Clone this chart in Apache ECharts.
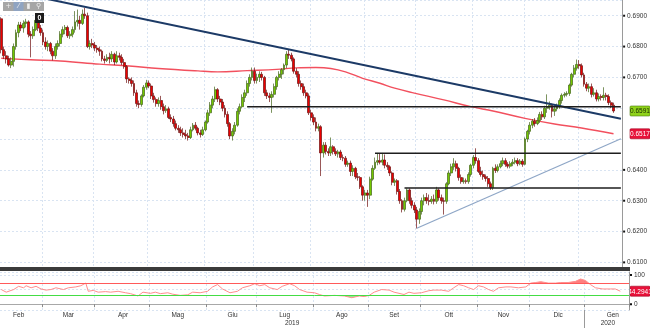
<!DOCTYPE html>
<html>
<head>
<meta charset="utf-8">
<title>NZD/USD giornaliero</title>
<script src="https://cdn.jsdelivr.net/npm/echarts@6.0.0/dist/echarts.min.js"></script>
<style>
  html, body { margin: 0; padding: 0; background: #ffffff; }
  #chart { width: 650px; height: 328px; }
</style>
</head>
<body>
<div id="chart"></div>
<script>
// ---- NZD/USD daily sessions from 6 Feb 2019: [open, close, low, high] ----
const ohlc = [
  // Feb 2019
  [0.6890,0.6790,0.6778,0.6895],[0.6790,0.6770,0.6760,0.6800],[0.6770,0.6760,0.6745,0.6785],
  [0.6760,0.6740,0.6735,0.6770],[0.6740,0.6752,0.6730,0.6765],[0.6752,0.6800,0.6735,0.6810],
  [0.6800,0.6845,0.6790,0.6855],[0.6845,0.6870,0.6830,0.6880],[0.6870,0.6860,0.6850,0.6880],
  [0.6860,0.6875,0.6845,0.6885],[0.6875,0.6880,0.6862,0.6890],[0.6880,0.6840,0.6830,0.6885],
  [0.6840,0.6835,0.6765,0.6850],[0.6835,0.6855,0.6825,0.6865],[0.6855,0.6885,0.6850,0.6890],
  [0.6885,0.6860,0.6850,0.6900],[0.6860,0.6845,0.6835,0.6870],
  // Mar
  [0.6845,0.6815,0.6805,0.6855],[0.6815,0.6800,0.6790,0.6830],[0.6800,0.6810,0.6785,0.6820],
  [0.6810,0.6785,0.6775,0.6815],[0.6785,0.6770,0.6755,0.6795],[0.6770,0.6800,0.6760,0.6810],
  [0.6800,0.6810,0.6790,0.6820],[0.6810,0.6840,0.6800,0.6850],[0.6840,0.6855,0.6830,0.6865],
  [0.6855,0.6862,0.6840,0.6870],[0.6862,0.6835,0.6828,0.6868],[0.6835,0.6840,0.6825,0.6850],
  [0.6840,0.6855,0.6830,0.6865],[0.6855,0.6880,0.6845,0.6915],[0.6880,0.6885,0.6865,0.6920],
  [0.6885,0.6875,0.6855,0.6900],[0.6875,0.6905,0.6870,0.6920],[0.6905,0.6900,0.6890,0.6925],
  [0.6900,0.6800,0.6795,0.6910],[0.6800,0.6810,0.6790,0.6820],[0.6810,0.6805,0.6795,0.6825],
  // Apr
  [0.6805,0.6795,0.6785,0.6815],[0.6795,0.6790,0.6780,0.6805],[0.6790,0.6785,0.6770,0.6800],
  [0.6785,0.6760,0.6752,0.6790],[0.6760,0.6755,0.6745,0.6770],[0.6755,0.6765,0.6750,0.6775],
  [0.6765,0.6760,0.6745,0.6780],[0.6760,0.6775,0.6750,0.6785],[0.6775,0.6750,0.6740,0.6780],
  [0.6750,0.6770,0.6745,0.6785],[0.6770,0.6765,0.6755,0.6780],[0.6765,0.6748,0.6740,0.6775],
  [0.6748,0.6735,0.6728,0.6760],[0.6735,0.6695,0.6682,0.6740],[0.6695,0.6690,0.6680,0.6700],
  [0.6690,0.6680,0.6670,0.6700],[0.6680,0.6650,0.6640,0.6690],[0.6650,0.6615,0.6605,0.6660],
  [0.6615,0.6612,0.6600,0.6625],[0.6612,0.6640,0.6605,0.6645],[0.6640,0.6668,0.6635,0.6675],
  [0.6668,0.6682,0.6660,0.6692],
  // May
  [0.6682,0.6672,0.6665,0.6690],[0.6672,0.6640,0.6630,0.6680],[0.6640,0.6628,0.6618,0.6650],
  [0.6628,0.6615,0.6605,0.6635],[0.6615,0.6625,0.6605,0.6635],[0.6625,0.6605,0.6595,0.6640],
  [0.6605,0.6592,0.6580,0.6615],[0.6592,0.6598,0.6585,0.6610],[0.6598,0.6570,0.6565,0.6605],
  [0.6570,0.6565,0.6555,0.6580],[0.6565,0.6550,0.6540,0.6575],[0.6550,0.6535,0.6528,0.6560],
  [0.6535,0.6530,0.6520,0.6545],[0.6530,0.6520,0.6510,0.6540],[0.6520,0.6515,0.6505,0.6535],
  [0.6515,0.6510,0.6500,0.6530],[0.6510,0.6505,0.6495,0.6520],[0.6505,0.6530,0.6500,0.6540],
  [0.6530,0.6545,0.6525,0.6552],[0.6545,0.6535,0.6528,0.6555],[0.6535,0.6520,0.6512,0.6540],
  [0.6520,0.6515,0.6505,0.6530],[0.6515,0.6530,0.6510,0.6540],
  // Jun
  [0.6530,0.6555,0.6525,0.6560],[0.6555,0.6585,0.6550,0.6595],[0.6585,0.6610,0.6575,0.6620],
  [0.6610,0.6630,0.6600,0.6640],[0.6630,0.6660,0.6620,0.6670],[0.6660,0.6630,0.6620,0.6665],
  [0.6630,0.6620,0.6610,0.6640],[0.6620,0.6600,0.6590,0.6630],[0.6600,0.6580,0.6570,0.6610],
  [0.6580,0.6550,0.6540,0.6590],[0.6550,0.6510,0.6500,0.6555],[0.6510,0.6525,0.6495,0.6535],
  [0.6525,0.6545,0.6515,0.6555],[0.6545,0.6590,0.6540,0.6600],[0.6590,0.6605,0.6580,0.6615],
  [0.6605,0.6635,0.6600,0.6645],[0.6635,0.6650,0.6620,0.6660],[0.6650,0.6680,0.6640,0.6690],
  [0.6680,0.6700,0.6670,0.6710],[0.6700,0.6720,0.6690,0.6732],
  // Jul
  [0.6720,0.6690,0.6680,0.6732],[0.6690,0.6700,0.6680,0.6712],[0.6700,0.6710,0.6685,0.6720],
  [0.6710,0.6700,0.6690,0.6718],[0.6700,0.6650,0.6640,0.6705],[0.6650,0.6640,0.6630,0.6660],
  [0.6640,0.6635,0.6620,0.6650],[0.6635,0.6645,0.6585,0.6655],[0.6645,0.6670,0.6635,0.6680],
  [0.6670,0.6700,0.6660,0.6705],[0.6700,0.6710,0.6690,0.6720],[0.6710,0.6725,0.6695,0.6730],
  [0.6725,0.6740,0.6710,0.6745],[0.6740,0.6775,0.6730,0.6785],[0.6775,0.6772,0.6760,0.6792],
  [0.6772,0.6760,0.6752,0.6780],[0.6760,0.6720,0.6712,0.6765],[0.6720,0.6710,0.6700,0.6730],
  [0.6710,0.6680,0.6670,0.6720],[0.6680,0.6670,0.6660,0.6690],[0.6670,0.6650,0.6640,0.6680],
  [0.6650,0.6640,0.6632,0.6660],[0.6640,0.6585,0.6578,0.6648],
  // Aug
  [0.6585,0.6570,0.6560,0.6595],[0.6570,0.6555,0.6545,0.6580],[0.6555,0.6535,0.6525,0.6570],
  [0.6535,0.6540,0.6525,0.6550],[0.6540,0.6455,0.6380,0.6545],[0.6455,0.6480,0.6440,0.6490],
  [0.6480,0.6460,0.6450,0.6490],[0.6460,0.6455,0.6445,0.6470],[0.6455,0.6475,0.6445,0.6505],
  [0.6475,0.6460,0.6450,0.6480],[0.6460,0.6452,0.6445,0.6470],[0.6452,0.6458,0.6440,0.6465],
  [0.6458,0.6440,0.6432,0.6465],[0.6440,0.6438,0.6428,0.6450],[0.6438,0.6418,0.6410,0.6445],
  [0.6418,0.6422,0.6410,0.6430],[0.6422,0.6395,0.6380,0.6430],[0.6395,0.6405,0.6380,0.6415],
  [0.6405,0.6378,0.6370,0.6410],[0.6378,0.6375,0.6365,0.6390],[0.6375,0.6345,0.6338,0.6380],
  [0.6345,0.6318,0.6300,0.6350],
  // Sep
  [0.6318,0.6325,0.6300,0.6335],[0.6325,0.6318,0.6280,0.6335],[0.6318,0.6370,0.6305,0.6378],
  [0.6370,0.6405,0.6365,0.6415],[0.6405,0.6425,0.6400,0.6440],[0.6425,0.6430,0.6415,0.6455],
  [0.6430,0.6425,0.6418,0.6452],[0.6425,0.6432,0.6415,0.6455],[0.6432,0.6415,0.6405,0.6450],
  [0.6415,0.6410,0.6400,0.6425],[0.6410,0.6390,0.6380,0.6415],[0.6390,0.6360,0.6350,0.6395],
  [0.6360,0.6365,0.6348,0.6372],[0.6365,0.6330,0.6320,0.6370],[0.6330,0.6300,0.6290,0.6338],
  [0.6300,0.6272,0.6262,0.6305],[0.6272,0.6300,0.6265,0.6310],[0.6300,0.6335,0.6295,0.6340],
  [0.6335,0.6300,0.6290,0.6340],[0.6300,0.6285,0.6275,0.6310],[0.6285,0.6270,0.6260,0.6295],
  // Oct
  [0.6270,0.6240,0.6210,0.6280],[0.6240,0.6265,0.6225,0.6275],[0.6265,0.6300,0.6255,0.6310],
  [0.6300,0.6310,0.6285,0.6320],[0.6310,0.6300,0.6290,0.6325],[0.6300,0.6298,0.6285,0.6320],
  [0.6298,0.6305,0.6290,0.6315],[0.6305,0.6298,0.6288,0.6320],[0.6298,0.6335,0.6290,0.6345],
  [0.6335,0.6310,0.6300,0.6340],[0.6310,0.6300,0.6290,0.6320],[0.6300,0.6298,0.6255,0.6310],
  [0.6298,0.6355,0.6290,0.6360],[0.6355,0.6390,0.6350,0.6398],[0.6390,0.6410,0.6380,0.6420],
  [0.6410,0.6420,0.6400,0.6438],[0.6420,0.6405,0.6395,0.6430],[0.6405,0.6375,0.6365,0.6410],
  [0.6375,0.6362,0.6355,0.6385],[0.6362,0.6365,0.6355,0.6375],[0.6365,0.6362,0.6355,0.6372],
  [0.6362,0.6385,0.6355,0.6392],[0.6385,0.6415,0.6378,0.6420],
  // Nov
  [0.6415,0.6440,0.6405,0.6448],[0.6440,0.6430,0.6420,0.6470],[0.6430,0.6395,0.6390,0.6438],
  [0.6395,0.6385,0.6378,0.6410],[0.6385,0.6378,0.6368,0.6398],[0.6378,0.6372,0.6362,0.6385],
  [0.6372,0.6355,0.6345,0.6380],[0.6355,0.6342,0.6335,0.6362],[0.6342,0.6405,0.6335,0.6410],
  [0.6405,0.6398,0.6390,0.6418],[0.6398,0.6410,0.6392,0.6418],[0.6410,0.6420,0.6405,0.6430],
  [0.6420,0.6430,0.6412,0.6440],[0.6430,0.6418,0.6410,0.6438],[0.6418,0.6412,0.6405,0.6425],
  [0.6412,0.6420,0.6405,0.6428],[0.6420,0.6425,0.6412,0.6435],[0.6425,0.6430,0.6418,0.6440],
  [0.6430,0.6420,0.6412,0.6438],[0.6420,0.6428,0.6415,0.6435],[0.6428,0.6418,0.6410,0.6435],
  // Dec
  [0.6418,0.6500,0.6415,0.6505],[0.6500,0.6525,0.6490,0.6530],[0.6525,0.6545,0.6515,0.6555],
  [0.6545,0.6558,0.6535,0.6565],[0.6558,0.6550,0.6540,0.6568],[0.6550,0.6560,0.6545,0.6570],
  [0.6560,0.6580,0.6552,0.6588],[0.6580,0.6572,0.6562,0.6590],[0.6572,0.6600,0.6565,0.6608],
  [0.6600,0.6605,0.6585,0.6645],[0.6605,0.6610,0.6595,0.6622],[0.6610,0.6590,0.6570,0.6615],
  [0.6590,0.6598,0.6575,0.6605],[0.6598,0.6605,0.6590,0.6615],[0.6605,0.6625,0.6598,0.6632],
  [0.6625,0.6642,0.6615,0.6648],[0.6642,0.6645,0.6635,0.6652],[0.6645,0.6648,0.6638,0.6655],
  [0.6648,0.6675,0.6640,0.6680],[0.6675,0.6710,0.6670,0.6715],[0.6710,0.6730,0.6700,0.6740],
  [0.6730,0.6742,0.6722,0.6758],
  // Jan 2020
  [0.6742,0.6738,0.6728,0.6756],[0.6738,0.6708,0.6700,0.6745],[0.6708,0.6678,0.6670,0.6715],
  [0.6678,0.6665,0.6655,0.6685],[0.6665,0.6670,0.6652,0.6680],[0.6670,0.6645,0.6635,0.6680],
  [0.6645,0.6650,0.6638,0.6665],[0.6650,0.6630,0.6622,0.6660],[0.6630,0.6638,0.6622,0.6648],
  [0.6638,0.6635,0.6625,0.6645],[0.6635,0.6642,0.6625,0.6668],[0.6642,0.6638,0.6625,0.6650],
  [0.6638,0.6618,0.6610,0.6645],[0.6618,0.6610,0.6600,0.6625],[0.6610,0.6591,0.6585,0.6618]
];

// 200-session moving average: [session number, value]
const movingAverage = [
  [0,0.6762],[12,0.6757],[24,0.6753],[40,0.6743],[52,0.6737],[64,0.6729],[80,0.6721],
  [88,0.6718],[100,0.6722],[112,0.6726],[120,0.6731],[128,0.6732],[134,0.6729],[140,0.6718],
  [147,0.6697],[154,0.6681],[160,0.6665],[168,0.6649],[180,0.6627],[191,0.6605],[200,0.6591],
  [213,0.6567],[225,0.6549],[236,0.6536],[249,0.6517]
];

// RSI(14): [session number, value]
const rsi = [
  [0,50],[2,41],[5,50],[7,61],[9,56],[10,63],[12,56],[14,61],[16,52],[18,48],[20,50],[22,56],
  [25,50],[27,56],[30,59],[32,63],[34,72],[35,44],[37,47],[39,41],[42,43],[44,41],[47,44],
  [50,39],[52,36],[55,28],[57,41],[60,37],[62,41],[64,36],[67,39],[69,34],[72,30],[75,32],
  [77,41],[80,39],[83,44],[85,59],[87,67],[89,52],[92,39],[95,44],[97,56],[100,63],[102,70],
  [104,63],[106,67],[108,56],[111,50],[113,61],[116,70],[118,63],[120,50],[123,41],[126,39],
  [128,33],[130,28],[134,30],[138,28],[141,22],[144,28],[146,26],[148,30],[150,41],[153,50],
  [156,48],[158,41],[162,33],[164,41],[166,37],[169,39],[172,46],[174,48],[177,48],[180,44],
  [182,56],[184,67],[186,63],[188,56],[190,50],[192,63],[194,59],[196,50],[198,44],[200,56],
  [203,59],[205,59],[208,56],[211,59],[213,72],[215,74],[217,77],[220,72],[223,72],[225,74],
  [228,74],[231,78],[233,86],[235,81],[237,67],[239,56],[242,52],[245,52],[247,52],[249,44.2941]
];
const rsiBands = { overbought: 70, oversold: 30 };

// Hand-drawn studies: [session number, price]
const resistanceLine = [[0, 0.69855], [252, 0.65658]];
const supportLine = [[169, 0.62109], [252, 0.6501]];
const levelLines = [
  [[100, 0.6605], [252, 0.6605]],
  [[152, 0.6454], [252, 0.6454]],
  [[164, 0.6341], [252, 0.6341]]
];

const monthNames = ['Gen', 'Feb', 'Mar', 'Apr', 'Mag', 'Giu', 'Lug', 'Ago', 'Set', 'Ott', 'Nov', 'Dic'];
const firstSession = '2019-02-06';
const lastAxisDay = '2020-01-24';

// ---- calendar helpers ----
function weekdays(from, to) {
  const out = [];
  const d = new Date(from + 'T00:00:00Z');
  const end = new Date(to + 'T00:00:00Z');
  while (d <= end) {
    const w = d.getUTCDay();
    if (w !== 0 && w !== 6) out.push(d.toISOString().slice(0, 10));
    d.setUTCDate(d.getUTCDate() + 1);
  }
  return out;
}
const sessions = weekdays(firstSession, lastAxisDay);
const calendar = weekdays('2019-02-01', '2020-02-29');
const shift = calendar.indexOf(sessions[0]);

// month boundaries and month names centred on each full month
const monthStart = new Set();
const monthLabel = {};
[...new Set(sessions.slice(0, ohlc.length).map(d => d.slice(0, 7)))].forEach(key => {
  const first = calendar.findIndex(d => d.startsWith(key));
  let last = first;
  while (last + 1 < calendar.length && calendar[last + 1].startsWith(key)) last++;
  monthLabel[Math.round((first + last + 1) / 2 - 0.5) - shift] = monthNames[+key.slice(5, 7) - 1];
  if (first - shift > 0) monthStart.add(first - shift);
});
// year names centred on the visible part of each year
const yearLabel = {};
let yearStart = -1;
[...new Set(sessions.map(d => d.slice(0, 4)))].forEach(y => {
  const first = sessions.findIndex(d => d.startsWith(y));
  let last = first;
  while (last + 1 < sessions.length && sessions[last + 1].startsWith(y)) last++;
  yearLabel[Math.round((first + last + 1) / 2 - 0.5)] = y;
  if (first > 0) yearStart = first;
});

const FONT = '"Liberation Sans Narrow", "Liberation Sans", Arial, sans-serif';
const lastClose = ohlc[ohlc.length - 1][1];
const lastAverage = movingAverage[movingAverage.length - 1][1];
const lastRsi = rsi[rsi.length - 1][1];

const tickSquare = { width: 2, height: 2, backgroundColor: '#111' };
const tickText = { padding: [0, 0, 0, 2], fontSize: 6.5, color: '#333', fontFamily: FONT };
const gridDash = { color: '#d9e4f2', type: [2, 2], width: 1 };

const chart = echarts.init(document.getElementById('chart'), null, { renderer: 'canvas' });

const option = {
  animation: false,
  backgroundColor: '#ffffff',
  grid: [
    { left: -1, top: 0, width: 630, height: 267 },
    { left: -1, top: 272, width: 630, height: 38 }
  ],
  xAxis: [
    {
      gridIndex: 0, type: 'category', data: sessions, boundaryGap: true, position: 'bottom',
      axisLine: { show: false }, axisTick: { show: false }, axisLabel: { show: false },
      splitLine: { show: true, interval: i => monthStart.has(i), lineStyle: gridDash }
    },
    {
      gridIndex: 1, type: 'category', data: sessions, boundaryGap: true, position: 'bottom',
      axisLine: { show: true, lineStyle: { color: '#a8a8a8' } },
      axisTick: { show: true, interval: i => monthStart.has(i), length: 3, lineStyle: { color: '#8a8a8a' } },
      axisLabel: {
        interval: i => monthLabel[i] !== undefined,
        formatter: (v, i) => monthLabel[i] || '',
        fontSize: 6.5, color: '#333', fontFamily: FONT, margin: 2
      },
      splitLine: { show: true, interval: i => monthStart.has(i), lineStyle: gridDash }
    },
    {
      gridIndex: 1, type: 'category', data: sessions, boundaryGap: true, position: 'bottom', offset: 0,
      axisLine: { show: false },
      axisTick: { show: false },
      axisLabel: {
        interval: i => yearLabel[i] !== undefined,
        formatter: (v, i) => yearLabel[i] || '',
        fontSize: 6.5, color: '#333', fontFamily: FONT, margin: 10
      },
      splitLine: { show: false }
    }
  ],
  yAxis: [
    {
      gridIndex: 0, type: 'value', position: 'right', min: 0.6085, max: 0.6951, splitNumber: 9,
      axisLine: { show: true, lineStyle: { color: '#9a9a9a' } },
      axisTick: { show: false },
      splitLine: { show: true, lineStyle: gridDash },
      axisLabel: {
        margin: 1,
        formatter: v => {
          const onTick = Math.abs(v * 100 - Math.round(v * 100)) < 1e-6;
          const covered = Math.abs(v - lastClose) < 0.0035 || Math.abs(v - lastAverage) < 0.0035;
          return onTick && !covered ? '{s| }{v|' + v.toFixed(4) + '}' : '';
        },
        rich: { s: tickSquare, v: tickText }
      }
    },
    {
      gridIndex: 1, type: 'value', position: 'right', min: -20, max: 110, splitNumber: 2,
      axisLine: { show: true, lineStyle: { color: '#9a9a9a' } },
      axisTick: { show: false },
      splitLine: { show: true, lineStyle: gridDash },
      axisLabel: {
        margin: 1,
        formatter: v => (v === 0 || v === 100) ? '{s| }{v|' + v + '}' : '',
        rich: { s: tickSquare, v: tickText }
      }
    }
  ],
  visualMap: [{
    type: 'piecewise', show: false, seriesIndex: 7, dimension: 1,
    pieces: [
      { gt: rsiBands.overbought, color: 'rgba(255,95,95,0.8)' },
      { gte: rsiBands.oversold, lte: rsiBands.overbought, color: 'rgba(255,255,255,0)' },
      { lt: rsiBands.oversold, color: 'rgba(70,220,70,0.6)' }
    ]
  }],
  series: [
    {
      name: 'MA 200', type: 'line', xAxisIndex: 0, yAxisIndex: 0, data: movingAverage,
      symbol: 'none', smooth: 0.4, z: 2, silent: true,
      lineStyle: { color: '#f2505e', width: 1.4 }
    },
    {
      name: 'NZD/USD', type: 'candlestick', xAxisIndex: 0, yAxisIndex: 0, data: ohlc,
      barWidth: 2.4, z: 3, silent: true,
      itemStyle: {
        color: '#74c800', color0: '#ee0000',
        borderColor: '#43641a', borderColor0: '#6e1010', borderWidth: 0.7
      }
    },
    {
      name: 'Resistenza', type: 'line', xAxisIndex: 0, yAxisIndex: 0, data: resistanceLine,
      symbol: 'none', z: 5, silent: true, lineStyle: { color: '#1c3a66', width: 2 }
    },
    {
      name: 'Supporto', type: 'line', xAxisIndex: 0, yAxisIndex: 0, data: supportLine,
      symbol: 'none', z: 5, silent: true, lineStyle: { color: '#8ea6c6', width: 1.2 }
    },
    ...levelLines.map((pts, k) => ({
      name: 'Livello ' + (k + 1), type: 'line', xAxisIndex: 0, yAxisIndex: 0, data: pts,
      symbol: 'none', z: 5, silent: true, lineStyle: { color: '#1e1e1e', width: 1.4 }
    })),
    {
      name: 'RSI zone', type: 'line', xAxisIndex: 1, yAxisIndex: 1, data: rsi,
      symbol: 'none', z: 2, silent: true,
      lineStyle: { width: 0, opacity: 0 },
      areaStyle: { origin: rsiBands.overbought, opacity: 1 }
    },
    {
      name: 'RSI', type: 'line', xAxisIndex: 1, yAxisIndex: 1, data: rsi,
      symbol: 'none', z: 4, silent: true,
      lineStyle: { color: '#ff8e8e', width: 1 },
      markLine: {
        silent: true, symbol: 'none', label: { show: false },
        data: [
          { yAxis: rsiBands.overbought, lineStyle: { color: '#ff5a5a', width: 1, type: 'solid' } },
          { yAxis: rsiBands.oversold, lineStyle: { color: '#44dd44', width: 1, type: 'solid' } }
        ]
      }
    }
  ]
};
chart.setOption(option);

// value tags on the right-hand scale
function tag(yAxisIndex, value, text, fill, stroke, color) {
  const y = chart.convertToPixel({ yAxisIndex }, value);
  return {
    type: 'group', x: 630, y: y,
    children: [
      { type: 'rect', shape: { x: 0, y: -5, width: 20, height: 10, r: 1 }, style: { fill, stroke, lineWidth: 0.6 } },
      { type: 'text', style: { x: 10, y: 0.5, text, fill: color, fontSize: 6.5, fontFamily: FONT, align: 'center', verticalAlign: 'middle' } }
    ]
  };
}

const glyph = (x, text) => ({
  type: 'text', style: { x, y: 6.5, text, fill: '#eeeeee', fontSize: 7, fontFamily: '"DejaVu Sans", sans-serif', align: 'center', verticalAlign: 'middle' }
});

// year boundary marker below the time axis, at the left edge of the first session of the new year
const bandWidth = chart.convertToPixel({ xAxisIndex: 1 }, 1) - chart.convertToPixel({ xAxisIndex: 1 }, 0);
const yearX = Math.round(chart.convertToPixel({ xAxisIndex: 1 }, yearStart) - bandWidth / 2) + 0.5;
const axisY = chart.convertToPixel({ yAxisIndex: 1 }, -20);

chart.setOption({
  graphic: [
    // panel separator
    { type: 'rect', shape: { x: 0, y: 267, width: 630, height: 4 }, style: { fill: '#3b3b3b' }, z: 10 },
    // year boundary
    { type: 'line', shape: { x1: yearX, y1: axisY, x2: yearX, y2: 328 }, style: { stroke: '#9a9a9a', lineWidth: 1 }, z: 10 },
    // toolbar
    { type: 'rect', shape: { x: 3, y: 2, width: 41, height: 9 }, style: { fill: '#a6a6a6' }, z: 10 },
    { type: 'rect', shape: { x: 13.5, y: 2, width: 10, height: 9 }, style: { fill: '#8fa4c2' }, z: 10 },
    Object.assign(glyph(8.5, '+'), { z: 11 }),
    Object.assign(glyph(18.5, '⁄'), { z: 11 }),
    Object.assign(glyph(28.5, '▮'), { z: 11 }),
    Object.assign(glyph(38.5, '⚲'), { z: 11 }),
    { type: 'rect', shape: { x: 35, y: 13, width: 9, height: 10 }, style: { fill: '#1c1c1c' }, z: 10 },
    { type: 'text', style: { x: 39.5, y: 18.5, text: '0', fill: '#ffffff', fontSize: 7, fontWeight: 'bold', fontFamily: FONT, align: 'center', verticalAlign: 'middle' }, z: 11 },
    // last values
    Object.assign(tag(0, lastClose, lastClose.toFixed(4), '#8fd21a', '#4f7d10', '#1a2a00'), { z: 12 }),
    Object.assign(tag(0, lastAverage, lastAverage.toFixed(4), '#e8123a', '#a00020', '#ffffff'), { z: 12 }),
    Object.assign(tag(1, lastRsi, lastRsi.toFixed(4), '#e8123a', '#a00020', '#ffffff'), { z: 12 })
  ]
});
</script>
</body>
</html>
